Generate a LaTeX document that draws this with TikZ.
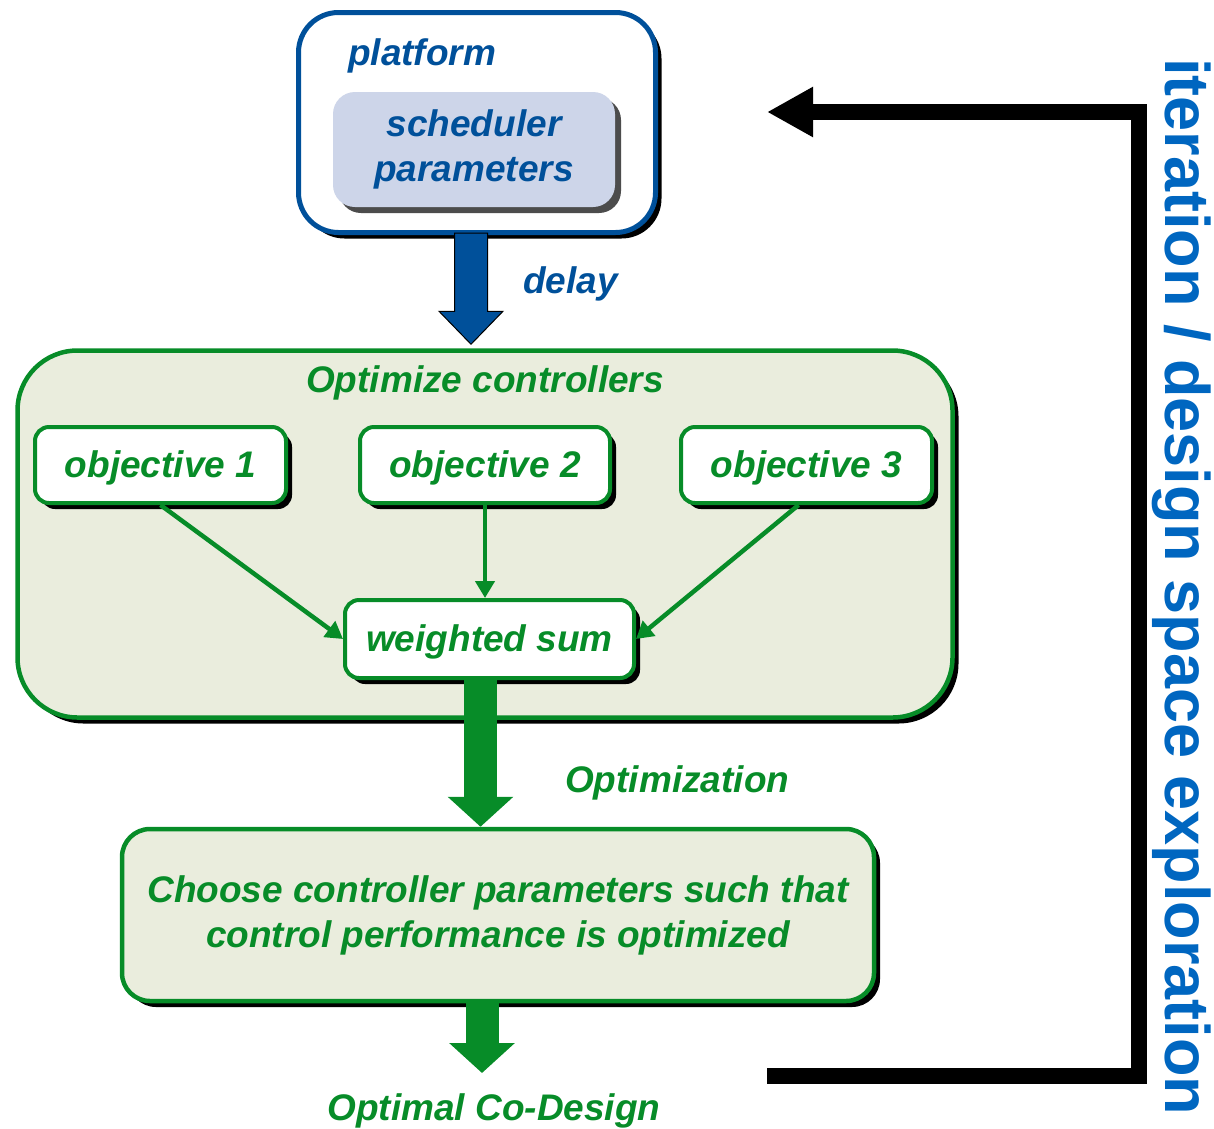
\documentclass[tikz,border=0pt]{standalone}
\usepackage{fontspec}
\setmainfont{Liberation Sans}
\usetikzlibrary{arrows.meta,shadows,calc}
\definecolor{pblue}{HTML}{00509A}
\definecolor{iterblue}{HTML}{0066C0}
\definecolor{dgreen}{HTML}{078C28}
\definecolor{boxfill}{HTML}{EAEDDD}
\definecolor{schedfill}{HTML}{CDD5E9}
\begin{document}
\begin{tikzpicture}[x=1pt,y=-1pt,
  lbl/.style={font=\fontsize{37}{45}\selectfont\bfseries\itshape, inner sep=0pt},
  hardshadow/.style={drop shadow={shadow xshift=6pt,shadow yshift=-6pt,fill=#1,opacity=1}},
  hardshadow/.default=black,
  obox/.style={draw=dgreen, line width=4pt, fill=white, rounded corners=14pt,
    minimum height=76pt, text=dgreen, lbl, text height=28pt, text depth=4pt, hardshadow},
  bigbox/.style={draw=dgreen, line width=4.5pt, fill=boxfill, hardshadow},
  thinarrow/.style={draw=dgreen, line width=4.5pt, -{Triangle[length=17pt,width=19pt]}},
  fatarrow/.style={draw=dgreen, line width=33pt, -{Triangle[length=30pt,width=64pt]}},
]
\useasboundingbox (0,0) rectangle (1214,1128);

% platform block with the scheduler inside
\node[draw=pblue, line width=5pt, fill=white, rounded corners=40pt,
      minimum width=357pt, minimum height=220pt, hardshadow] (plat) at (477,122.5) {};
\node[lbl, text=pblue, anchor=base west] (platlbl) at (348,65) {platform};
\node[fill=schedfill, rounded corners=22pt, minimum width=282pt, minimum height=115pt,
      hardshadow=black!70, lbl, text=pblue, align=center] (sched) at (474,149.5)
      {scheduler\\parameters};

% controller optimisation block
\node[bigbox, rounded corners=60pt, minimum width=935pt, minimum height=367pt] (optim) at (485,534) {};
\node[lbl, text=dgreen, anchor=base] (optimlbl) at (485,392) {Optimize controllers};
\node[obox, minimum width=251pt] (o1) at (160.5,465) {objective 1};
\node[obox, minimum width=250pt] (o2) at (485,465) {objective 2};
\node[obox, minimum width=251pt] (o3) at (806.5,465) {objective 3};
\node[obox, minimum width=289pt, minimum height=78pt] (ws) at (489.5,639) {weighted sum};

\draw[thinarrow] (o1.south) -- (ws.west);
\draw[thinarrow] (o2.south) -- (o2.south |- ws.north);
\draw[thinarrow] ([xshift=-8pt]o3.south) -- (ws.east);

% delay arrow from the platform into the optimisation
\coordinate (d0) at ($(sched.south |- plat.south)+(-3,-2)$);
\coordinate (d1) at ($(d0 |- optim.north)+(0,-4)$);
\filldraw[fill=pblue, draw=black, line width=1pt]
  ($(d0)+(-16.5,0)$) -- ($(d0)+(16.5,0)$) -- ($(d1)+(16.5,-33)$) -- ($(d1)+(32,-33)$)
  -- (d1) -- ($(d1)+(-32,-33)$) -- ($(d1)+(-16.5,-33)$) -- cycle;
\node[lbl, text=pblue, anchor=base west] (delaylbl) at (523,293) {delay};

% final choice block
\node[bigbox, rounded corners=28pt, minimum width=752pt, minimum height=172pt,
      lbl, text=dgreen, align=center] (choose) at (498,915)
      {Choose controller parameters such that\\control performance is optimized};
\draw[fatarrow] ([xshift=-9pt]ws.south) -- ([xshift=-9pt]ws.south |- choose.north);
\node[lbl, text=dgreen, anchor=base west] (optlbl) at (565,792) {Optimization};

\node[lbl, text=dgreen, anchor=base] (result) at (494,1120) {Optimal Co-Design};
\draw[fatarrow, shorten >=20pt] ([xshift=-16pt]choose.south) -- ([xshift=-16pt]choose.south |- result.north);

% design-space exploration loop
\coordinate (fbstart) at (767,1076);
\coordinate (fbside) at (1139,600);
\coordinate (fbend) at (767,112);
\draw[line width=16pt, -{Triangle[length=46pt,width=47pt]}] (fbstart) -| (fbside) |- (fbend);
\node[font=\fontsize{63}{70}\selectfont\bfseries, text=iterblue, rotate=-90,
      anchor=base west, inner sep=0pt] (iterlbl) at (1165,58) {iteration / design space exploration};
\end{tikzpicture}
\end{document}
